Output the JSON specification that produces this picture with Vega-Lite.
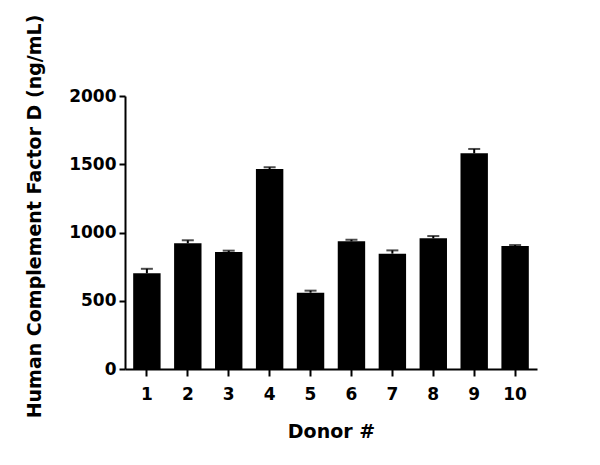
{
  "$schema": "https://vega.github.io/schema/vega-lite/v6.json",
  "width": 412,
  "height": 273,
  "autosize": {"type": "none"},
  "padding": {"left": 125, "top": 96, "right": 63, "bottom": 96},
  "background": "white",
  "view": {"stroke": null},
  "config": {
    "font": "DejaVu Sans",
    "axis": {
      "domainColor": "black",
      "domainWidth": 2,
      "tickColor": "black",
      "tickWidth": 2,
      "labelColor": "black",
      "labelFont": "DejaVu Sans",
      "labelFontWeight": "bold",
      "labelFontSize": 17,
      "titleColor": "black",
      "titleFont": "DejaVu Sans",
      "titleFontWeight": "bold",
      "titleFontSize": 19,
      "grid": false
    }
  },
  "data": {
    "values": [
      {"donor": 1, "mean": 701, "upper": 734},
      {"donor": 2, "mean": 921, "upper": 943},
      {"donor": 3, "mean": 857, "upper": 867},
      {"donor": 4, "mean": 1465, "upper": 1478},
      {"donor": 5, "mean": 559, "upper": 574},
      {"donor": 6, "mean": 935, "upper": 947},
      {"donor": 7, "mean": 845, "upper": 869},
      {"donor": 8, "mean": 957, "upper": 974},
      {"donor": 9, "mean": 1580, "upper": 1612},
      {"donor": 10, "mean": 901, "upper": 908}
    ]
  },
  "encoding": {
    "x": {
      "field": "donor",
      "type": "ordinal",
      "title": "Donor #",
      "scale": {"paddingInner": 0.33, "paddingOuter": 0.2},
      "axis": {
        "labelAngle": 0,
        "tickSize": 7,
        "labelPadding": 10,
        "titlePadding": 20
      }
    }
  },
  "layer": [
    {
      "mark": {"type": "bar", "color": "black"},
      "encoding": {
        "y": {
          "field": "mean",
          "type": "quantitative",
          "title": "Human Complement Factor D (ng/mL)",
          "scale": {"domain": [0, 2000], "nice": false},
          "axis": {
            "values": [0, 250, 500, 750, 1000, 1250, 1500, 1750, 2000],
            "labelExpr": "datum.value % 500 === 0 ? datum.label : ''",
            "format": "d",
            "tickSize": {"condition": {"test": "datum.value % 500 === 0", "value": 6}, "value": 3},
            "labelPadding": 3,
            "titlePadding": 24,
            "titleY": 120
          }
        }
      }
    },
    {
      "mark": {"type": "rule", "color": "black", "strokeWidth": 2},
      "encoding": {
        "y": {"field": "mean", "type": "quantitative"},
        "y2": {"field": "upper"}
      }
    },
    {
      "mark": {"type": "tick", "color": "black", "thickness": 2, "size": 12},
      "encoding": {
        "y": {"field": "upper", "type": "quantitative"}
      }
    }
  ]
}
